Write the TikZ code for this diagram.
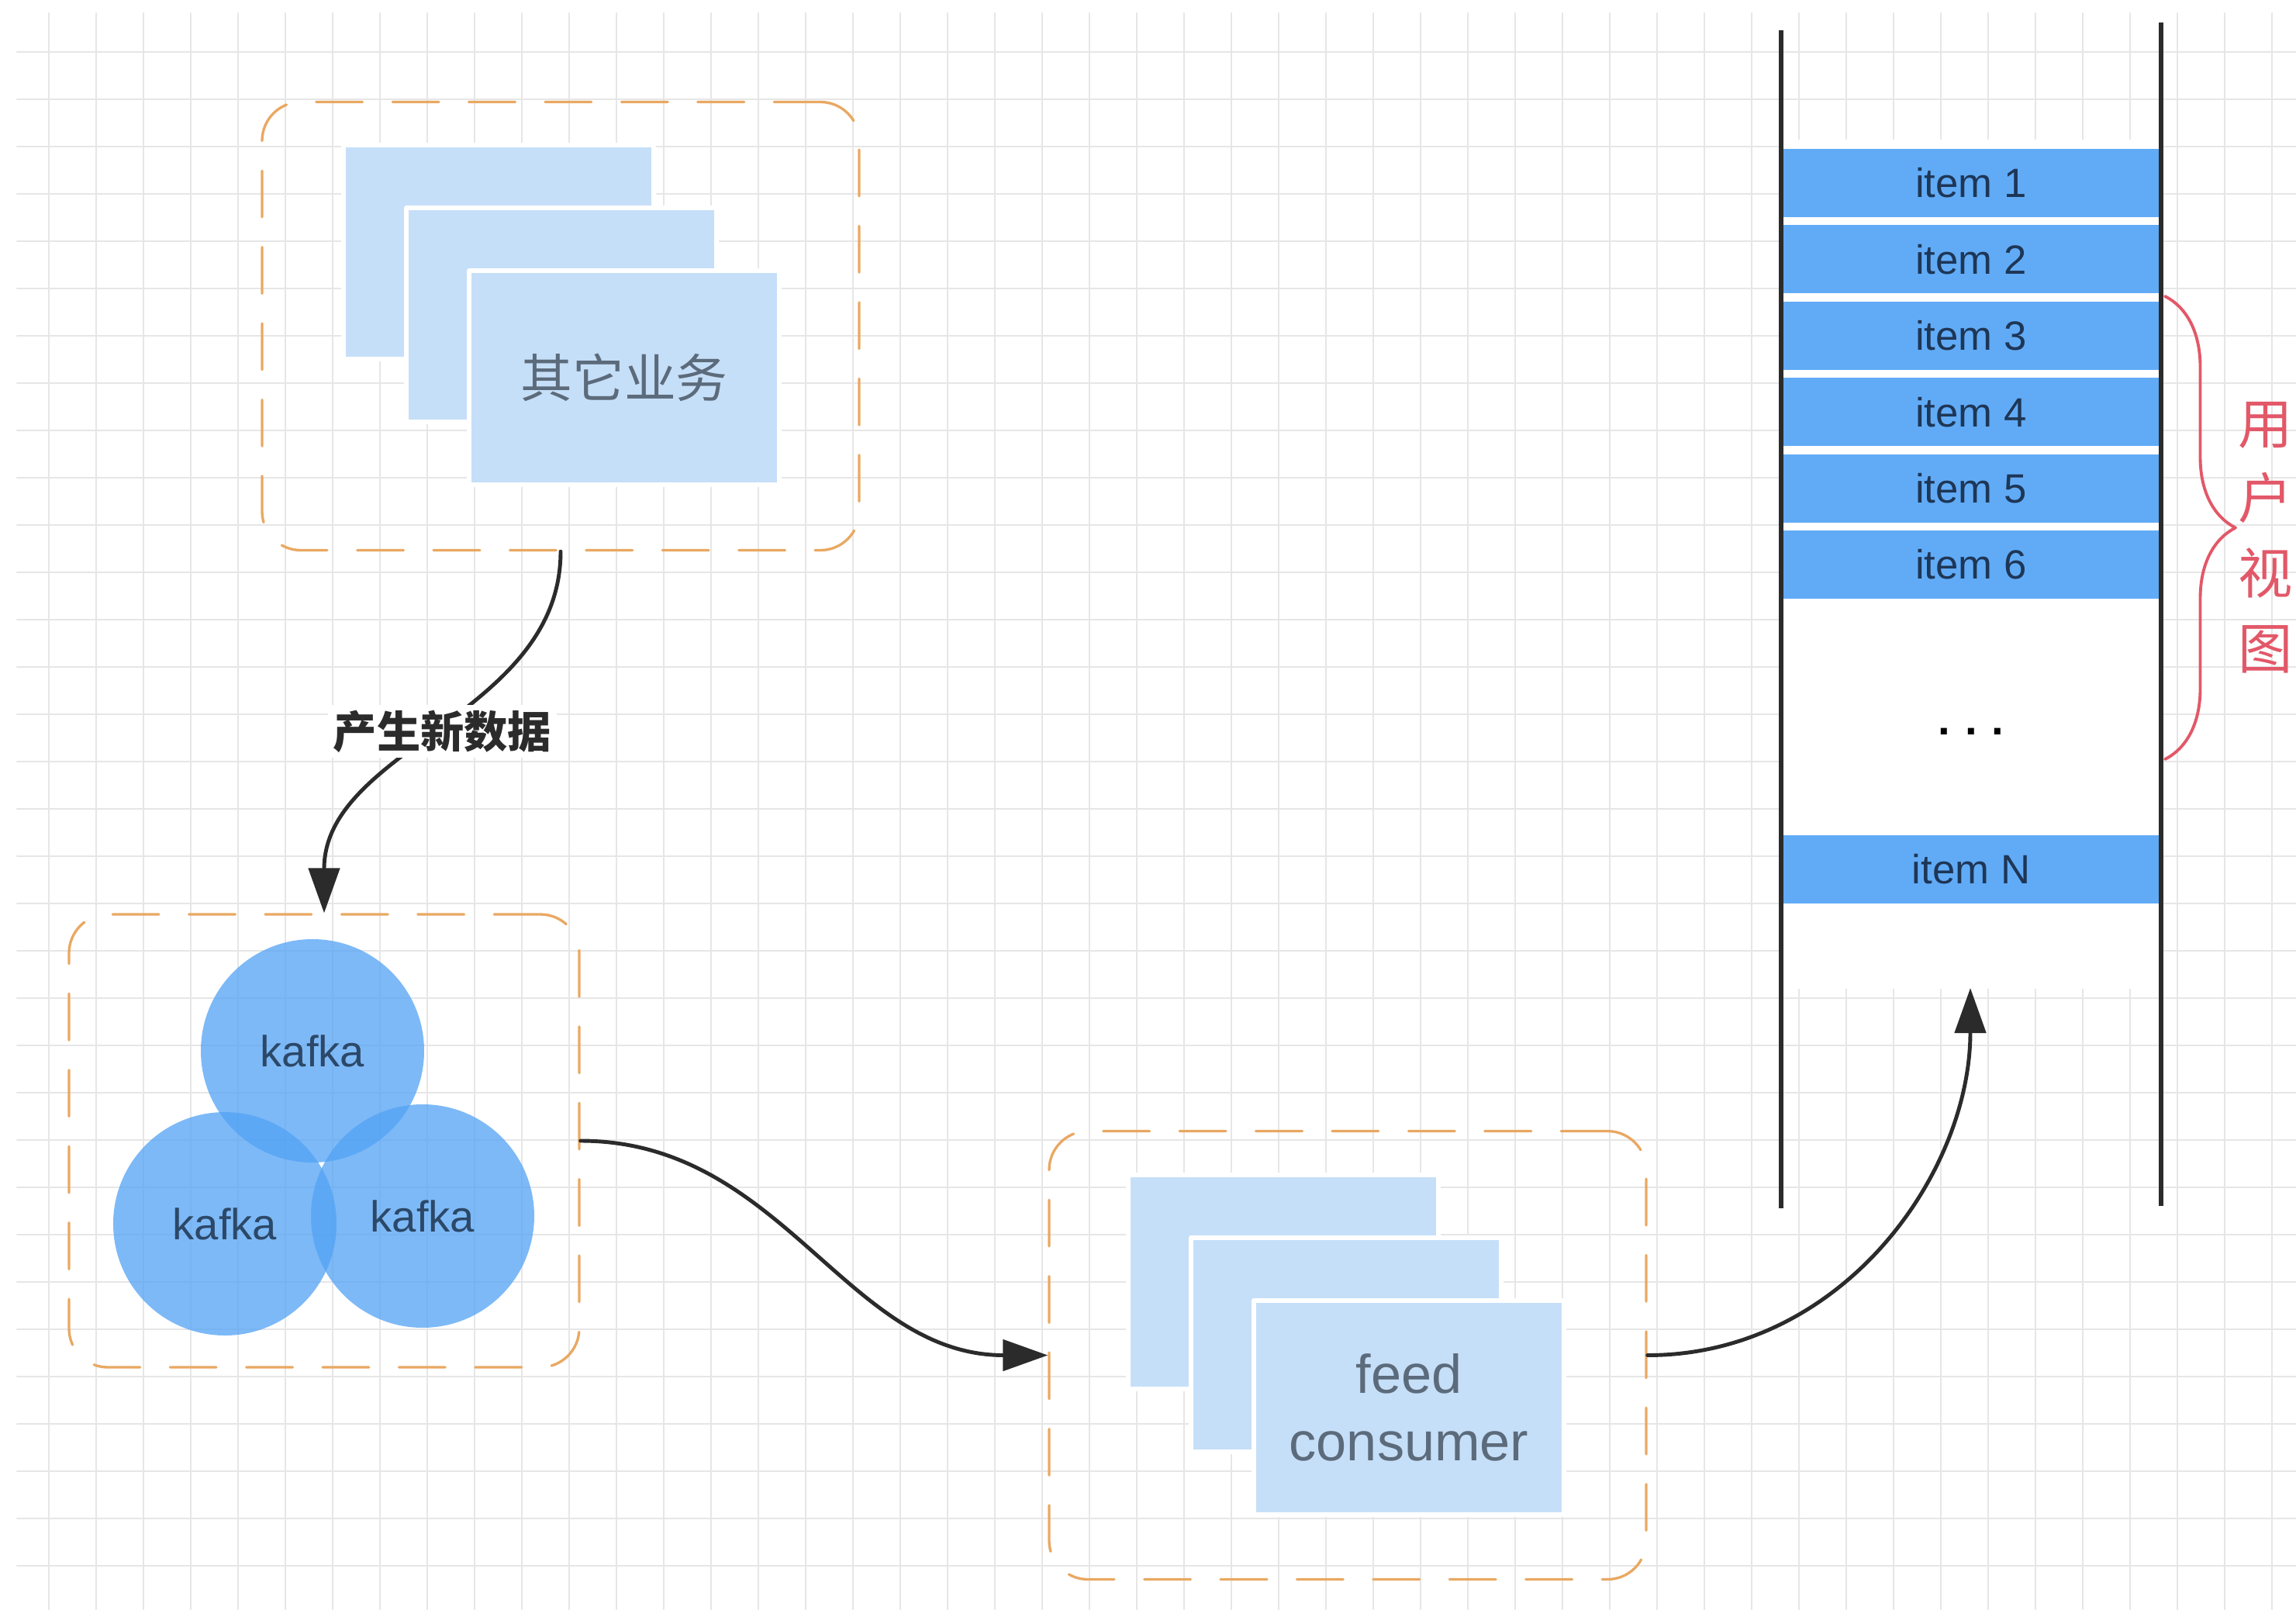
\documentclass[tikz,border=0pt]{standalone}
\usepackage{fontspec}
\setmainfont{Liberation Sans}
\newfontfamily\cjk{Noto Sans CJK SC}
\usepackage{tikz}
\usetikzlibrary{arrows.meta,decorations.pathreplacing}

\definecolor{gridgray}{HTML}{E6E6E6}
\definecolor{boxorange}{HTML}{E9A862}
\definecolor{pagefill}{HTML}{C6DFF8}
\definecolor{pagetext}{HTML}{5C6B7B}
\definecolor{kafkablue}{HTML}{52A2F4}
\definecolor{kafkatext}{HTML}{2C4868}
\definecolor{itemblue}{HTML}{61ABF6}
\definecolor{itemtext}{HTML}{1E3656}
\definecolor{flowgray}{HTML}{2B2B2B}
\definecolor{viewred}{HTML}{E25868}

\begin{document}
\begin{tikzpicture}[x=1cm,y=-1cm,
    >={Triangle[length=.58cm,width=.40cm]},
    line cap=round,line join=round,
    gridline/.style={draw=gridgray,line width=.6pt},
    groupbox/.style={draw=boxorange,line width=.95pt,
      dash pattern=on 17pt off 11pt,rounded corners=.5cm,
      minimum width=7.7cm,minimum height=5.78cm,inner sep=0pt},
    page/.style={fill=pagefill,draw=white,line width=1.5pt,
      minimum width=4cm,minimum height=2.76cm,inner sep=0pt,text=pagetext},
    broker/.style={circle,fill=kafkablue,fill opacity=.75,text opacity=1,
      minimum size=2.88cm,inner sep=0pt,text=kafkatext,
      font=\fontsize{16}{19}\selectfont},
    itembar/.style={fill=itemblue,minimum width=4.9cm,minimum height=.88cm,
      inner sep=0pt,text=itemtext,font=\fontsize{15}{18}\selectfont},
    stackwall/.style={draw=flowgray,line width=1.6pt,line cap=butt},
    flow/.style={->,draw=flowgray,line width=1.4pt}]

    \useasboundingbox (0,0) rectangle (29.61,20.75);
    \clip (0,0) rectangle (29.61,20.75);

    % Background grid of the drawing canvas.
    \foreach \gx in {0.63,1.24,...,29.61}
      \draw[gridline] (\gx,0.17) -- (\gx,20.75);
    \foreach \gy in {0.67,1.28,...,20.75}
      \draw[gridline] (0.22,\gy) -- (29.61,\gy);
    \fill[white] (22.99,1.80) rectangle (27.85,12.75);

    % Other services: three stacked pages in a dashed group.
    \node[groupbox] (biz) at (7.23,4.205) {};
    \node[page] (bizA) at (6.43,3.25) {};
    \node[page] (bizB) at (7.24,4.06) {};
    \node[page,font=\cjk\fontsize{19}{23}\selectfont] (bizC) at (8.05,4.87)
      {其它业务};

    % Kafka cluster: three overlapping brokers.
    \node[groupbox,minimum width=6.58cm,minimum height=5.84cm] (mq)
      at (4.18,14.71) {};
    \node[broker] (k1) at (4.03,13.55) {kafka};
    \node[broker] (k2) at (2.90,15.78) {kafka};
    \node[broker] (k3) at (5.45,15.68) {kafka};

    % Feed consumer group.
    \node[groupbox] (feed) at (17.38,17.475) {};
    \node[page] (feedA) at (16.55,16.53) {};
    \node[page] (feedB) at (17.36,17.34) {};
    \node[page,align=center,font=\fontsize{20}{24.7}\selectfont] (feedC)
      at (18.17,18.15) {feed\\consumer};

    % The feed stack with its items.
    \foreach \i in {1,...,6}
      \node[itembar] (item\i) at (25.42,{2.36+0.984*(\i-1)}) {item \i};
    \node[font=\bfseries\fontsize{16}{19}\selectfont,anchor=base] (more)
      at (25.42,9.47) {.\,\,.\,\,.};
    \node[itembar] (itemN) at (25.42,11.21) {item N};
    \draw[stackwall] (22.97,0.39) -- (22.97,15.58);
    \draw[stackwall] (27.87,0.29) -- (27.87,15.55);
    \coordinate (push) at (25.41,12.74);

    % User view brace.
    \coordinate (viewtop) at (27.92,3.82);
    \coordinate (viewbot) at (27.92,9.79);
    \draw[viewred,line width=1.1pt,decorate,
      decoration={brace,amplitude=.91cm}] (viewtop) -- (viewbot);
    \node[text=viewred,align=center,font=\cjk\fontsize{20}{27.5}\selectfont]
      (view) at (29.22,6.93) {用\\户\\视\\图};

    % Data flow.
    \draw[flow] (biz.south) .. controls +(0,2.1) and +(0,-2.13) .. (mq.north)
      node[midway,fill=white,inner sep=2pt,text=flowgray,
        font=\cjk\bfseries\fontsize{16}{19}\selectfont] (newdata) {产生新数据};
    \draw[flow] (mq.east) .. controls +(2.6,0) and +(-2.6,0) .. (feed.west);
    \draw[flow] (feed.east) .. controls +(2.5,0) and +(0,2.4) .. (push);
\end{tikzpicture}
\end{document}
